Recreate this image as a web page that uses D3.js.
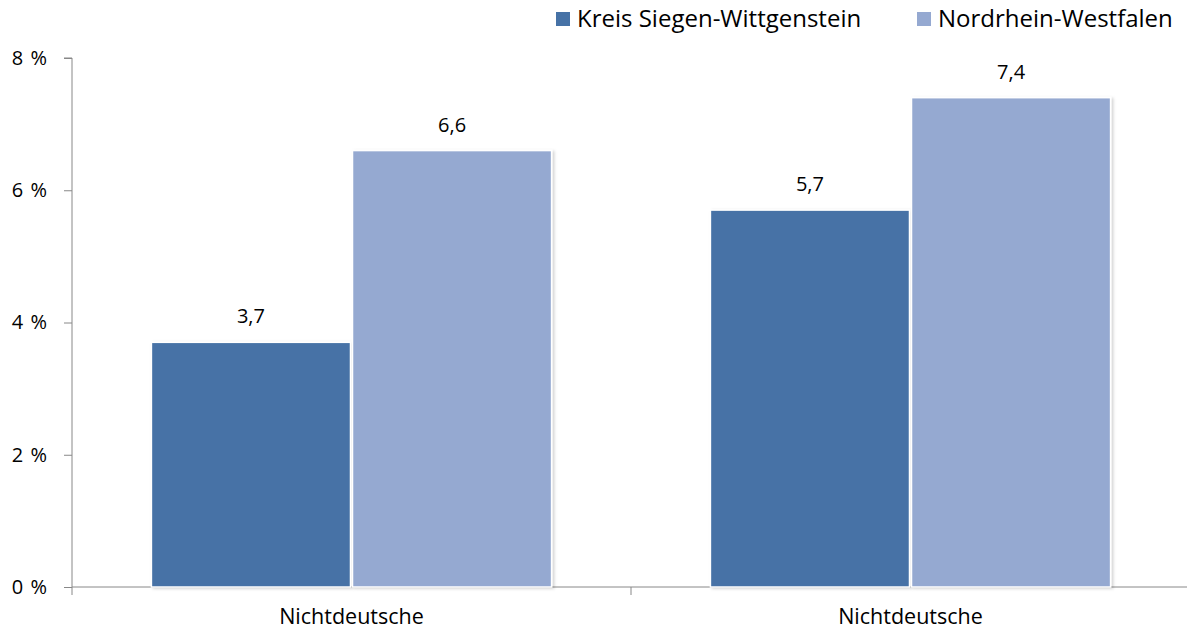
<!DOCTYPE html>
<html><head><meta charset="utf-8">
<script src="https://cdn.jsdelivr.net/npm/d3@7"></script>
<style>body{margin:0;background:#fff;} text{font-family:"Open Sans","Noto Sans",sans-serif;fill:#000;}</style>
</head><body>
<svg id="c" width="1187" height="632"></svg>
<script>
const categories = ["Nichtdeutsche", "Nichtdeutsche"];
const seriesNames = ["Kreis Siegen-Wittgenstein", "Nordrhein-Westfalen"];
const kreisValues = [3.7, 5.7];
const nrwValues = [6.6, 7.4];
const yTicks = [0, 2, 4, 6, 8];
const colors = ["#4672A6", "#95A9D1"];

(function(){
const svg = d3.select("#c");
const defs = svg.append("defs");
const f = defs.append("filter").attr("id","sh").attr("x","-10%").attr("y","-10%").attr("width","130%").attr("height","130%");
f.append("feDropShadow").attr("dx",2).attr("dy",1).attr("stdDeviation",1.5).attr("flood-color","#000").attr("flood-opacity",0.18);

const mLeft = 72, mRight = 1190, mTop = 58, mBottom = 587;
const y = d3.scaleLinear().domain([0, 8]).range([mBottom, mTop]);
const x0 = d3.scaleBand().domain(categories.map((d,i)=>i)).range([mLeft, mRight]).paddingInner(0).paddingOuter(0);
const x1 = d3.scaleBand().domain([0,1]).range([0, x0.bandwidth()]).paddingInner(0.01).paddingOuter(0.395);

// y axis
const yAxis = d3.axisLeft(y).tickValues(yTicks).tickSize(8).tickPadding(17).tickFormat(d => d + " %");
const gy = svg.append("g").attr("transform", `translate(${mLeft},0)`).call(yAxis);
gy.select(".domain").attr("stroke","#888").attr("d", `M-8,${mTop}H0V${mBottom}`);
gy.selectAll(".tick line").attr("stroke","#888");
gy.selectAll(".tick text").attr("font-size", 20).attr("fill","#000").attr("font-family","Open Sans, sans-serif").attr("word-spacing", 2);

// x axis
const gx = svg.append("g").attr("transform", `translate(0,${mBottom})`);
gx.append("line").attr("x1", mLeft).attr("x2", mRight).attr("stroke","#888");
const bounds = [mLeft, ...x0.domain().map(i => x0(i) + x0.bandwidth())];
gx.selectAll("line.t").data(bounds).join("line").attr("class","t")
  .attr("x1", d=>d).attr("x2", d=>d).attr("y1", 0).attr("y2", 8).attr("stroke","#888");
gx.selectAll("text.cat").data(categories).join("text").attr("class","cat")
  .attr("x", (d,i)=> x0(i) + x0.bandwidth()/2).attr("y", 37)
  .attr("text-anchor","middle").attr("font-size", 21.5).text(d=>d);

// bars
const rows = categories.map((c,i)=>[kreisValues[i], nrwValues[i]]);
const groups = svg.selectAll("g.grp").data(rows).join("g").attr("class","grp")
  .attr("transform", (d,i)=>`translate(${x0(i)},0)`);
groups.selectAll("rect").data(d=>d).join("rect")
  .attr("x", (d,j)=>x1(j)).attr("width", x1.bandwidth())
  .attr("y", d=>y(d)).attr("height", d=>mBottom - y(d))
  .attr("fill", (d,j)=>colors[j]).attr("stroke","#fff").attr("stroke-width",1.5)
  .attr("filter","url(#sh)");
groups.selectAll("text.v").data(d=>d).join("text").attr("class","v")
  .attr("x", (d,j)=>x1(j)+x1.bandwidth()/2).attr("y", d=>y(d)-19)
  .attr("text-anchor","middle").attr("font-size",20).text(d=>d3.format(".1f")(d).replace(".", ","));

// legend
const legX = [556, 917];
const lg = svg.selectAll("g.leg").data(seriesNames).join("g").attr("class","leg")
  .attr("transform",(d,i)=>`translate(${legX[i]},0)`);
lg.append("rect").attr("x",0).attr("y",12).attr("width",14).attr("height",14).attr("fill",(d,i)=>colors[i]);
lg.append("text").attr("x",21).attr("y",27).attr("font-size",24).text(d=>d);
})();
</script>
</body></html>
